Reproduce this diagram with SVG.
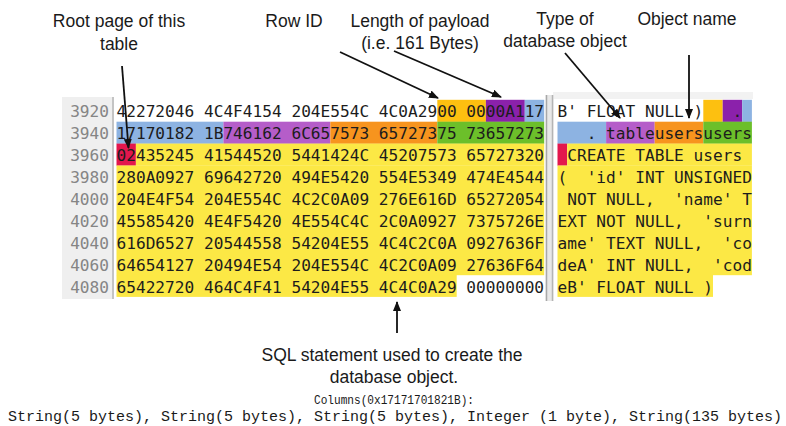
<svg xmlns="http://www.w3.org/2000/svg" width="786" height="426" viewBox="0 0 786 426">
<defs>
<style>
.lbl{font-family:"Liberation Sans",Arial,sans-serif;font-size:17.5px;fill:#1a1a1a;text-anchor:middle}
.mono{font-family:"DejaVu Sans Mono",monospace;font-size:16.15px;fill:#1c1c1c}
.ln{font-family:"DejaVu Sans Mono",monospace;font-size:16.15px;fill:#858585;text-anchor:end}
.cour{font-family:"Liberation Mono","Courier New",monospace;fill:#1a1a1a}
.conn{stroke:#111;stroke-width:1.8;fill:none;marker-end:url(#ah)}
.bl{fill:#8db3e2}.pl{fill:#b55dc9}.pd{fill:#8b21ab}.am{fill:#fdc010}.or{fill:#f7941e}.gr{fill:#6cbf2a}.ye{fill:#fce845}.rd{fill:#e3174d}
</style>
<marker id="ah" viewBox="0 0 10 8" refX="9" refY="4" markerWidth="10" markerHeight="8" markerUnits="userSpaceOnUse" orient="auto">
<path d="M0,0 L10,4 L0,8 z" fill="#111"/>
</marker>
</defs>
<rect width="786" height="426" fill="#fff"/>

<g id="editor">
<rect x="62" y="97" width="50" height="202" fill="#efefef"/>
<line x1="113" y1="97" x2="113" y2="299" stroke="#c4c4c4" stroke-width="2"/>
<rect x="553" y="92" width="200" height="7" fill="#f2f2f2"/>
<rect x="545.5" y="95" width="8" height="206" fill="#e8e8e8"/>
<line x1="546.5" y1="95" x2="546.5" y2="301" stroke="#a8a8a8" stroke-width="1.5"/>
<line x1="552.5" y1="95" x2="552.5" y2="301" stroke="#b4b4b4" stroke-width="1.5"/>

<g id="hex-highlights">
<rect class="am" x="437.3" y="99.8" width="48.6" height="22.1"/>
<rect class="pd" x="485.9" y="99.8" width="38.9" height="22.1"/>
<rect class="bl" x="524.7" y="99.8" width="19.5" height="22.1"/>
<rect class="bl" x="116.5" y="121.7" width="106.9" height="22.1"/>
<rect class="pl" x="223.4" y="121.7" width="106.9" height="22.1"/>
<rect class="or" x="330.3" y="121.7" width="107" height="22.1"/>
<rect class="gr" x="437.3" y="121.7" width="106.9" height="22.1"/>
<rect class="rd" x="116.5" y="143.6" width="19.4" height="22.1"/>
<rect class="ye" x="135.9" y="143.6" width="408.3" height="22.1"/>
<rect class="ye" x="116.5" y="165.5" width="427.7" height="109.7"/>
<rect class="ye" x="116.5" y="275" width="340.2" height="21.9"/>
</g>
<g id="ascii-highlights">
<rect class="am" x="703.3" y="99.8" width="19.4" height="22.1"/>
<rect class="pd" x="722.7" y="99.8" width="19.5" height="22.1"/>
<rect class="bl" x="742.2" y="99.8" width="9.7" height="22.1"/>
<rect class="bl" x="557.5" y="121.7" width="48.6" height="22.1"/>
<rect class="pl" x="606.1" y="121.7" width="48.6" height="22.1"/>
<rect class="or" x="654.7" y="121.7" width="48.6" height="22.1"/>
<rect class="gr" x="703.3" y="121.7" width="48.6" height="22.1"/>
<rect class="rd" x="557.5" y="143.6" width="9.7" height="22.1"/>
<rect class="ye" x="567.2" y="143.6" width="184.7" height="22.1"/>
<rect class="ye" x="557.5" y="165.5" width="194.4" height="109.7"/>
<rect class="ye" x="557.5" y="275" width="155.5" height="21.9"/>
</g>

<g id="line-numbers">
<text class="ln" x="109" y="117.3">3920</text>
<text class="ln" x="109" y="139.2">3940</text>
<text class="ln" x="109" y="161.1">3960</text>
<text class="ln" x="109" y="183.0">3980</text>
<text class="ln" x="109" y="204.9">4000</text>
<text class="ln" x="109" y="226.8">4020</text>
<text class="ln" x="109" y="248.7">4040</text>
<text class="ln" x="109" y="270.6">4060</text>
<text class="ln" x="109" y="292.5">4080</text>
</g>
<g id="hex-text">
<text class="mono" x="116.5" y="117.3" xml:space="preserve">42272046 4C4F4154 204E554C 4C0A2900 0000A117</text>
<text class="mono" x="116.5" y="139.2" xml:space="preserve">17170182 1B746162 6C657573 65727375 73657273</text>
<text class="mono" x="116.5" y="161.1" xml:space="preserve">02435245 41544520 5441424C 45207573 65727320</text>
<text class="mono" x="116.5" y="183.0" xml:space="preserve">280A0927 69642720 494E5420 554E5349 474E4544</text>
<text class="mono" x="116.5" y="204.9" xml:space="preserve">204E4F54 204E554C 4C2C0A09 276E616D 65272054</text>
<text class="mono" x="116.5" y="226.8" xml:space="preserve">45585420 4E4F5420 4E554C4C 2C0A0927 7375726E</text>
<text class="mono" x="116.5" y="248.7" xml:space="preserve">616D6527 20544558 54204E55 4C4C2C0A 0927636F</text>
<text class="mono" x="116.5" y="270.6" xml:space="preserve">64654127 20494E54 204E554C 4C2C0A09 27636F64</text>
<text class="mono" x="116.5" y="292.5" xml:space="preserve">65422720 464C4F41 54204E55 4C4C0A29 00000000</text>
</g>
<g id="ascii-text">
<text class="mono" x="557.5" y="117.3" xml:space="preserve">B' FLOAT NULL )   . </text>
<text class="mono" x="557.5" y="139.2" xml:space="preserve">   . tableusersusers</text>
<text class="mono" x="557.5" y="161.1" xml:space="preserve"> CREATE TABLE users </text>
<text class="mono" x="557.5" y="183.0" xml:space="preserve">(  'id' INT UNSIGNED</text>
<text class="mono" x="557.5" y="204.9" xml:space="preserve"> NOT NULL,  'name' T</text>
<text class="mono" x="557.5" y="226.8" xml:space="preserve">EXT NOT NULL,  'surn</text>
<text class="mono" x="557.5" y="248.7" xml:space="preserve">ame' TEXT NULL,  'co</text>
<text class="mono" x="557.5" y="270.6" xml:space="preserve">deA' INT NULL,  'cod</text>
<text class="mono" x="557.5" y="292.5" xml:space="preserve">eB' FLOAT NULL )</text>
</g>
</g>

<g id="label-root"><text class="lbl" x="119" y="27">Root page of this</text><text class="lbl" x="119" y="50">table</text></g>
<g id="label-rowid"><text class="lbl" x="294" y="27">Row ID</text></g>
<g id="label-length"><text class="lbl" x="420" y="27">Length of payload</text><text class="lbl" x="420" y="49">(i.e. 161 Bytes)</text></g>
<g id="label-type"><text class="lbl" x="565" y="25">Type of</text><text class="lbl" x="565" y="47">database object</text></g>
<g id="label-objname"><text class="lbl" x="687" y="25">Object name</text></g>
<g id="label-sql"><text class="lbl" x="392" y="361">SQL statement used to create the</text><text class="lbl" x="394" y="383">database object.</text></g>
<g id="label-columns">
<text class="cour" x="314" y="404" font-size="13.5" textLength="160" lengthAdjust="spacingAndGlyphs">Columns(0x17171701821B):</text>
<text class="cour" x="8" y="421" font-size="15" textLength="774" lengthAdjust="spacingAndGlyphs">String(5 bytes), String(5 bytes), String(5 bytes), Integer (1 byte), String(135 bytes)</text>
</g>

<g id="connectors">
<path class="conn" d="M122,66 L128.5,148"/>
<path class="conn" d="M340,52 L438,98"/>
<path class="conn" d="M394,51 L501,97"/>
<path class="conn" d="M565,53 L620,118"/>
<path class="conn" d="M689,55 L689,118"/>
<path class="conn" d="M397,333 L397,302"/>
</g>
</svg>
